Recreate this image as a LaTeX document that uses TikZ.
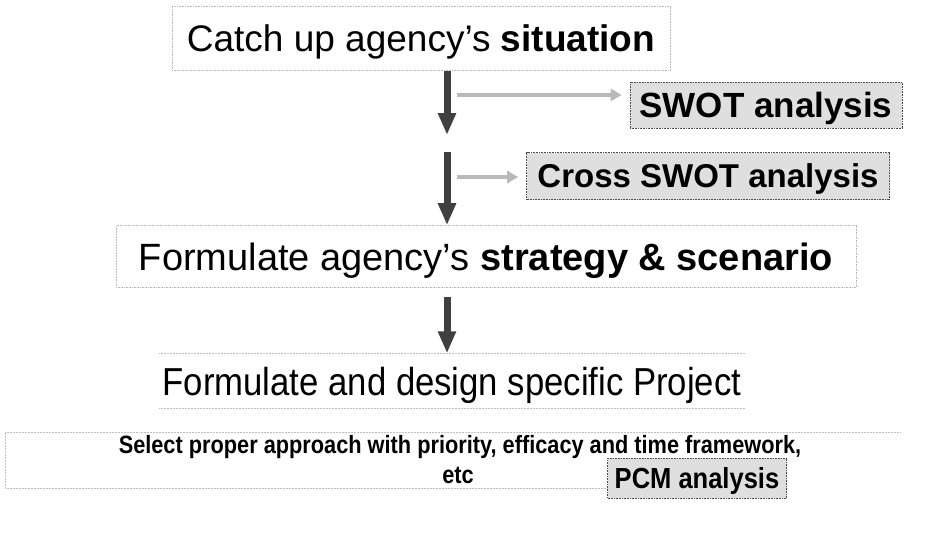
\documentclass[tikz,border=0pt]{standalone}
\usepackage{fontspec}
\setmainfont{Liberation Sans}
\newfontfamily\narrowfont[FakeStretch=0.87]{Liberation Sans}
\usetikzlibrary{arrows.meta}
\begin{document}
\begin{tikzpicture}[x=1pt,y=-1pt,
  cap/.style={text height=#1, text depth=0pt},
  mainbox/.style={draw=gray!55, densely dotted, line width=0.6pt, inner sep=0pt},
  greybox/.style={draw=black!70, densely dotted, line width=0.6pt, fill=gray!25, inner sep=0pt},
  plain/.style={inner sep=0pt},
  faint/.style={draw=gray!50, densely dotted, line width=0.5pt},
  bigarrow/.style={draw=black!75, line width=7pt, -{Triangle[width=17pt,length=22pt]}},
  greyarrow/.style={draw=gray!55, line width=3.5pt, -{Triangle[width=12pt,length=11pt]}, shorten >=8pt}
]
\useasboundingbox (0,0) rectangle (925,539);

% main boxes
\node[mainbox, cap=26.6pt, minimum width=498pt, minimum height=64pt, font=\fontsize{37}{40}\selectfont]
  (box1) at (421,38.5) {Catch up agency’s \textbf{situation}};
\node[mainbox, cap=27.4pt, minimum width=740pt, minimum height=62pt, font=\fontsize{38}{42}\selectfont]
  (box3) at (486,256.5) {Formulate agency’s \textbf{strategy \& scenario}};
\node[plain, cap=28pt, minimum width=585pt, minimum height=55pt, font=\narrowfont\fontsize{39}{42}\selectfont]
  (proj) at (452,381) {\addfontfeature{FakeStretch=0.89}Formulate and design specific Project};
\draw[faint] (proj.north west) -- (proj.north east);
\draw[faint] (proj.south west) -- (proj.south east);

% grey analysis boxes
\node[greybox, cap=25.2pt, minimum width=272pt, minimum height=46pt, font=\bfseries\fontsize{35}{38}\selectfont]
  (swot) at (766,105) {SWOT analysis};
\node[greybox, cap=23.8pt, minimum width=363pt, minimum height=47pt, font=\bfseries\fontsize{33}{36}\selectfont]
  (cross) at (708,176) {Cross SWOT analysis};

% select text
\coordinate (selTL) at (5,432);
\coordinate (selTR) at (900,432);
\coordinate (selBL) at (5,488);
\node[anchor=base, inner sep=0pt, font=\narrowfont\bfseries\fontsize{25}{28}\selectfont]
  (sel1) at (460,453) {Select proper approach with priority, efficacy and time framework,};
\node[anchor=base, inner sep=0pt, font=\narrowfont\bfseries\fontsize{25}{28}\selectfont]
  (sel2) at (458,483) {etc};
\draw[faint] (selTR) -- (selTL) -- (selBL) -- (608,488);

\node[greybox, cap=20.9pt, minimum width=179pt, minimum height=40pt, font=\narrowfont\bfseries\fontsize{29}{32}\selectfont]
  (pcm) at (697,478) {\addfontfeature{FakeStretch=0.88}PCM analysis};

% big arrows
\coordinate (a1end) at (447,135);
\coordinate (a2start) at (447,152);
\coordinate (a3start) at (447,297);
\draw[bigarrow] (box1.south -| a1end) -- (a1end);
\draw[bigarrow] (a2start) -- (a2start |- box3.north);
\draw[bigarrow] (a3start) -- (a3start |- proj.north);

% grey arrows
\coordinate (g1) at (457,95);
\coordinate (g2) at (457,177);
\draw[greyarrow] (g1) -- (g1 -| swot.west);
\draw[greyarrow] (g2) -- (g2 -| cross.west);
\end{tikzpicture}
\end{document}
